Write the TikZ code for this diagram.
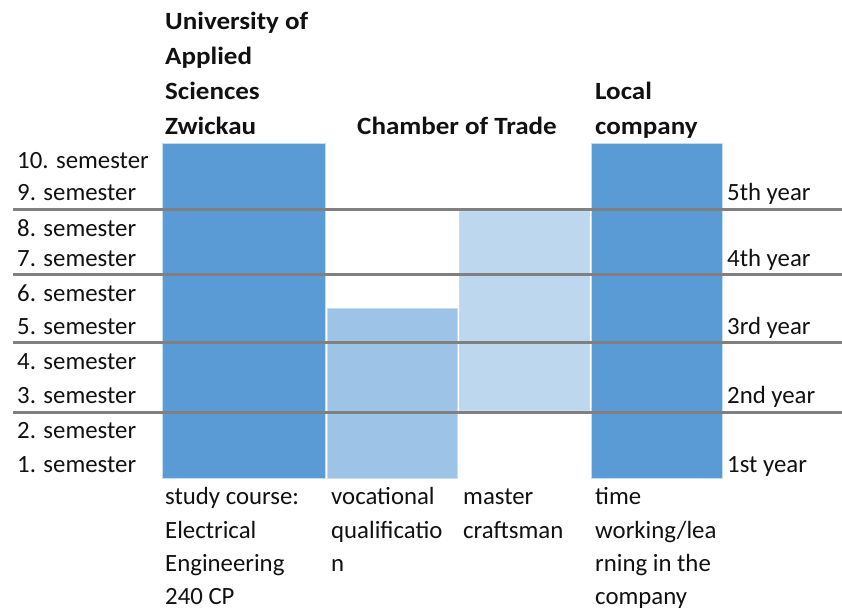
\documentclass[tikz,border=0pt]{standalone}
\usepackage{fontspec}
\setmainfont{Carlito}[BoldFeatures={FakeStretch=1.09}]
\usetikzlibrary{positioning}
\definecolor{BarDark}{HTML}{5B9BD5}
\definecolor{BarMid}{HTML}{9DC3E6}
\definecolor{BarLight}{HTML}{BDD7EE}
\definecolor{Rule}{HTML}{808080}
\definecolor{Ink}{HTML}{111111}

\begin{document}
\begin{tikzpicture}[x=1pt,y=-1pt,
  lbl/.style={anchor=base west,inner sep=0pt,font=\fontsize{24.8}{30}\selectfont,text=Ink},
  head/.style={lbl,font=\fontsize{24.8}{30}\selectfont\bfseries},
  bar/.style={draw=white!65!BarDark,line width=0.8pt},
  yearline/.style={Rule,line width=3pt}]
\useasboundingbox (0,0) rectangle (842,611);
% columns
\filldraw[bar,fill=BarDark] (162,143) rectangle (325,478);
\filldraw[bar,fill=BarMid] (327,308) rectangle (457,478);
\filldraw[bar,fill=BarLight] (459,211) rectangle (589,410);
\filldraw[bar,fill=BarDark] (591,143) rectangle (722,478);
% year boundaries
\draw[yearline] (13,209) -- (842,209);
\draw[yearline] (13,274) -- (842,274);
\draw[yearline] (13,342) -- (842,342);
\draw[yearline] (13,412) -- (842,412);
% headings
\node[head] (uni1) at (165,29) {University of};
\node[head] (uni2) at (165,64) {Applied};
\node[head] (uni3) at (165,99) {Sciences};
\node[head] (uni4) at (165,134) {Zwickau};
\node[head] (chamber) at (357,134) {Chamber of Trade};
\node[head] (loc1) at (595,99) {Local};
\node[head] (loc2) at (595,134) {company};
% semesters
\node[lbl] (s10) at (17,168) {10. semester};
\node[lbl] (s9) at (17,200) {9. semester};
\node[lbl] (s8) at (17,236) {8. semester};
\node[lbl] (s7) at (17,266) {7. semester};
\node[lbl] (s6) at (17,301) {6. semester};
\node[lbl] (s5) at (17,334) {5. semester};
\node[lbl] (s4) at (17,369) {4. semester};
\node[lbl] (s3) at (17,403) {3. semester};
\node[lbl] (s2) at (17,438) {2. semester};
\node[lbl] (s1) at (17,472) {1. semester};
% years
\node[lbl] (y5) at (727,200) {5th year};
\node[lbl] (y4) at (727,266) {4th year};
\node[lbl] (y3) at (727,334) {3rd year};
\node[lbl] (y2) at (727,403) {2nd year};
\node[lbl] (y1) at (727,472) {1st year};
% captions below the columns
\node[lbl] (c1a) at (165,504) {study course:};
\node[lbl] (c1b) at (165,538) {Electrical};
\node[lbl] (c1c) at (165,571) {Engineering};
\node[lbl] (c1d) at (165,604) {240 CP};
\node[lbl] (c2a) at (331,504) {vocational};
\node[lbl] (c2b) at (331,538) {qualificatio};
\node[lbl] (c2c) at (331,571) {n};
\node[lbl] (c3a) at (463,504) {master};
\node[lbl] (c3b) at (463,538) {craftsman};
\node[lbl] (c4a) at (595,504) {time};
\node[lbl] (c4b) at (595,538) {working/lea};
\node[lbl] (c4c) at (595,571) {rning in the};
\node[lbl] (c4d) at (595,604) {company};
\end{tikzpicture}
\end{document}
